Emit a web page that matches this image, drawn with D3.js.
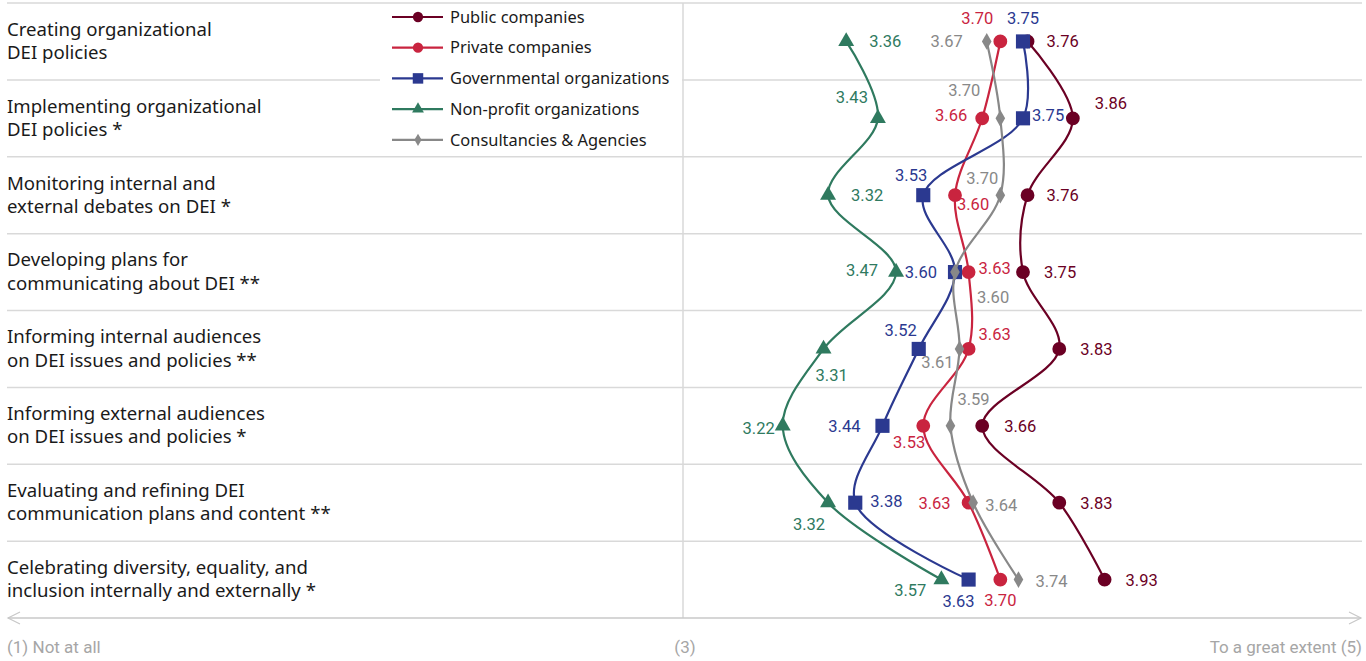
<!DOCTYPE html>
<html>
<head>
<meta charset="UTF-8">
<title>DEI communication - D3</title>
<script src="https://cdn.jsdelivr.net/npm/d3@7"></script>
<style>
  body{margin:0;background:#fff;}
  svg{display:block;font-family:Roboto,"Noto Sans",sans-serif;}
  .cat, .leg{font-family:"Noto Sans",Roboto,sans-serif;}
</style>
</head>
<body>
<script>
// categories (two lines each)
var categories = [
  ["Creating organizational", "DEI policies"],
  ["Implementing organizational", "DEI policies *"],
  ["Monitoring internal and", "external debates on DEI *"],
  ["Developing plans for", "communicating about DEI **"],
  ["Informing internal audiences", "on DEI issues and policies **"],
  ["Informing external audiences", "on DEI issues and policies *"],
  ["Evaluating and refining DEI", "communication plans and content **"],
  ["Celebrating diversity, equality, and", "inclusion internally and externally *"]
];
var seriesNames = ["Public companies", "Private companies", "Governmental organizations", "Non-profit organizations", "Consultancies & Agencies"];
var publicVals     = [3.76, 3.86, 3.76, 3.75, 3.83, 3.66, 3.83, 3.93];
var privateVals    = [3.70, 3.66, 3.60, 3.63, 3.63, 3.53, 3.63, 3.70];
var govVals        = [3.75, 3.75, 3.53, 3.60, 3.52, 3.44, 3.38, 3.63];
var nonprofitVals  = [3.36, 3.43, 3.32, 3.47, 3.31, 3.22, 3.32, 3.57];
var consultVals    = [3.67, 3.70, 3.70, 3.60, 3.61, 3.59, 3.64, 3.74];
var axisLabels = ["(1) Not at all", "(3)", "To a great extent (5)"];

var colors = ["#6b0024", "#c9243f", "#2b3990", "#2f7a5f", "#888888"];
var shapes = [d3.symbolCircle, d3.symbolCircle, d3.symbolSquare, d3.symbolTriangle, d3.symbolDiamond];
var sizes = [150, 150, 200, 110, 80];

// label placement per series / row: [dx, dy, anchor]
var labelPos = [
  [[19,0,"start"],[22,-15,"start"],[19,0,"start"],[21,0,"start"],[21,0,"start"],[22,0,"start"],[21,0,"start"],[21,0,"start"]],
  [[-7,-23,"end"],[-15,-3,"end"],[2,9,"start"],[10,-4,"start"],[10,-15,"start"],[2,16,"end"],[-18,0,"end"],[0,20,"middle"]],
  [[0,-23,"middle"],[9,-3,"start"],[4,-20,"end"],[-18,0,"end"],[-2,-19,"end"],[-22,0,"end"],[15,-2,"start"],[6,21,"end"]],
  [[23,0,"start"],[-10,-21,"end"],[23,0,"start"],[-18,-2,"end"],[-8,26,"start"],[-8,2,"end"],[-3,21,"end"],[-15,10,"end"]],
  [[-24,0,"end"],[-20,-28,"end"],[-2,-17,"end"],[22,25,"start"],[-6,13,"end"],[7,-27,"start"],[12,2,"start"],[17,1,"start"]]
];

var allVals = [publicVals, privateVals, govVals, nonprofitVals, consultVals];
var W = 1366, H = 661;

var svg = d3.select("body").append("svg").attr("width", W).attr("height", H);

var x = d3.scaleLinear().domain([1.5, 4.5]).range([3, 1363]);
var y = d3.scaleBand().domain(d3.range(categories.length)).range([3, 618]);

// row separators
svg.append("g").selectAll("line")
  .data(d3.range(categories.length))
  .enter().append("line")
  .attr("x1", 7).attr("x2", 1362)
  .attr("y1", function(d){ return y(d); })
  .attr("y2", function(d){ return y(d); })
  .attr("stroke", "#d9d9d9").attr("stroke-width", 1.5);

// center line
svg.append("line")
  .attr("x1", x(3)).attr("x2", x(3))
  .attr("y1", 3).attr("y2", 618)
  .attr("stroke", "#d9d9d9").attr("stroke-width", 1.5);

// bottom arrow axis
var axisY = 618;
svg.append("line").attr("x1", 8).attr("x2", 1361).attr("y1", axisY).attr("y2", axisY)
  .attr("stroke", "#c8c8c8").attr("stroke-width", 1.5);
svg.append("path").attr("d", "M20," + (axisY-6) + " L8," + axisY + " L20," + (axisY+6))
  .attr("fill", "none").attr("stroke", "#c8c8c8").attr("stroke-width", 1.2);
svg.append("path").attr("d", "M1349," + (axisY-6) + " L1361," + axisY + " L1349," + (axisY+6))
  .attr("fill", "none").attr("stroke", "#c8c8c8").attr("stroke-width", 1.2);

svg.append("g").selectAll("text")
  .data(axisLabels).enter().append("text")
  .attr("x", function(d, i){ return [7, x(3)+2, 1362][i]; })
  .attr("y", 653)
  .attr("text-anchor", function(d, i){ return ["start", "middle", "end"][i]; })
  .attr("fill", "#a6a6a6").attr("font-size", "17px")
  .text(function(d){ return d; });

// category labels
var cat = svg.append("g").attr("class", "cat").selectAll("text")
  .data(categories).enter().append("text")
  .attr("x", 7)
  .attr("y", function(d, i){ return y(i) + y.bandwidth()/2; })
  .attr("fill", "#1a1a1a").attr("font-size", "18.6px");
cat.append("tspan").attr("x", 7).attr("dy", "-0.3em").text(function(d){ return d[0]; });
cat.append("tspan").attr("x", 7).attr("dy", "1.25em").text(function(d){ return d[1]; });

// lines
var line = d3.line()
  .x(function(d){ return x(d); })
  .y(function(d, i){ return y(i) + y.bandwidth()/2; })
  .curve(d3.curveCatmullRom.alpha(0.5));

var series = svg.append("g").selectAll("g")
  .data(allVals).enter().append("g");

series.append("path")
  .attr("d", function(d){ return line(d); })
  .attr("fill", "none")
  .attr("stroke", function(d, i){ return colors[i]; })
  .attr("stroke-width", 2.2);

series.each(function(vals, s){
  var g = d3.select(this);
  g.selectAll("path.mk").data(vals).enter().append("path")
    .attr("class", "mk")
    .attr("d", d3.symbol().type(shapes[s]).size(sizes[s]))
    .attr("transform", function(d, i){
      return "translate(" + x(d) + "," + (y(i) + y.bandwidth()/2) + ")";
    })
    .attr("fill", colors[s]);
  g.selectAll("text").data(vals).enter().append("text")
    .attr("x", function(d, i){ return x(d) + labelPos[s][i][0]; })
    .attr("y", function(d, i){ return y(i) + y.bandwidth()/2 + labelPos[s][i][1]; })
    .attr("dy", "0.36em")
    .attr("text-anchor", function(d, i){ return labelPos[s][i][2]; })
    .attr("fill", colors[s]).attr("font-size", "16.5px")
    .text(function(d){ return d.toFixed(2); });
});

// legend
var leg = svg.append("g").attr("class", "leg");
leg.append("rect").attr("x", 380).attr("y", 5).attr("width", 302).attr("height", 150).attr("fill", "#fff");
var li = leg.selectAll("g").data(seriesNames).enter().append("g")
  .attr("transform", function(d, i){ return "translate(0," + (17 + i*30.7) + ")"; });
li.append("line").attr("x1", 392).attr("x2", 443).attr("y1", 0).attr("y2", 0)
  .attr("stroke", function(d, i){ return colors[i]; }).attr("stroke-width", 2.2);
li.append("path")
  .attr("d", function(d, i){ return d3.symbol().type(shapes[i]).size(sizes[i]*0.55)(); })
  .attr("transform", "translate(418,0)")
  .attr("fill", function(d, i){ return colors[i]; });
li.append("text").attr("x", 450).attr("y", 0).attr("dy", "0.35em")
  .attr("fill", "#1a1a1a").attr("font-size", "16.4px")
  .text(function(d){ return d; });
</script>
</body>
</html>
